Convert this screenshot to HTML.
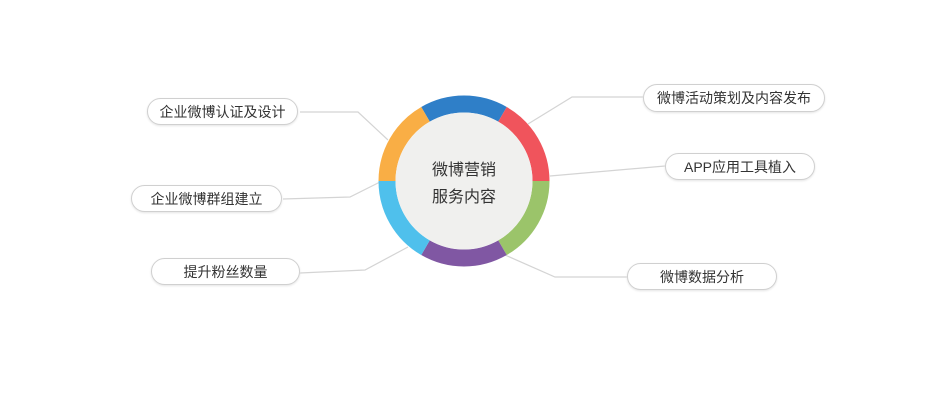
<!DOCTYPE html>
<html><head><meta charset="utf-8"><style>
body{margin:0;width:941px;height:405px;background:#fff;overflow:hidden;position:relative;font-family:"Liberation Sans","Noto Sans CJK SC",sans-serif}
.p{position:absolute;border:1px solid #d0d0d0;border-radius:14px;background:#fff;color:#333;font-size:14px;display:flex;align-items:center;justify-content:center;box-sizing:border-box;box-shadow:0 1px 2px #e4e4e4}
</style></head><body>
<svg width="941" height="405" style="position:absolute;left:0;top:0">
<g fill="none" stroke="#d4d4d4" stroke-width="1.2">
<polyline points="300,112 358,112 388,140"/>
<polyline points="283,199 350,197 380,182"/>
<polyline points="300,273 365,270 408,247"/>
<polyline points="528,124 572,97 643,97"/>
<polyline points="550,176 665,166"/>
<polyline points="505,255 555,277 627,277"/>
</g>
<g transform="translate(464,181)" fill="none" stroke-width="17">
<circle r="77" stroke="#2f7fc8" stroke-dasharray="80.6 403.2" transform="rotate(-120)"/>
<circle r="77" stroke="#f0545c" stroke-dasharray="80.6 403.2" transform="rotate(-60)"/>
<circle r="77" stroke="#9bc46a" stroke-dasharray="80.6 403.2" transform="rotate(0)"/>
<circle r="77" stroke="#8057a3" stroke-dasharray="80.6 403.2" transform="rotate(60)"/>
<circle r="77" stroke="#4fc0ec" stroke-dasharray="80.6 403.2" transform="rotate(120)"/>
<circle r="77" stroke="#f9ae45" stroke-dasharray="80.6 403.2" transform="rotate(180)"/>
</g>
<circle cx="464" cy="181" r="68.5" fill="#f0f0ee"/>
<text x="464" y="175" text-anchor="middle" font-size="16" fill="#333" font-family="Liberation Sans,Noto Sans CJK SC,sans-serif">微博营销</text>
<text x="464" y="202" text-anchor="middle" font-size="16" fill="#333" font-family="Liberation Sans,Noto Sans CJK SC,sans-serif">服务内容</text>
</svg>
<div class="p" style="left:147px;top:98px;width:151px;height:27px">企业微博认证及设计</div>
<div class="p" style="left:131px;top:185px;width:151px;height:27px">企业微博群组建立</div>
<div class="p" style="left:151px;top:258px;width:149px;height:27px">提升粉丝数量</div>
<div class="p" style="left:643px;top:84px;width:182px;height:28px">微博活动策划及内容发布</div>
<div class="p" style="left:665px;top:153px;width:150px;height:27px">APP应用工具植入</div>
<div class="p" style="left:627px;top:263px;width:150px;height:27px">微博数据分析</div>
</body></html>
